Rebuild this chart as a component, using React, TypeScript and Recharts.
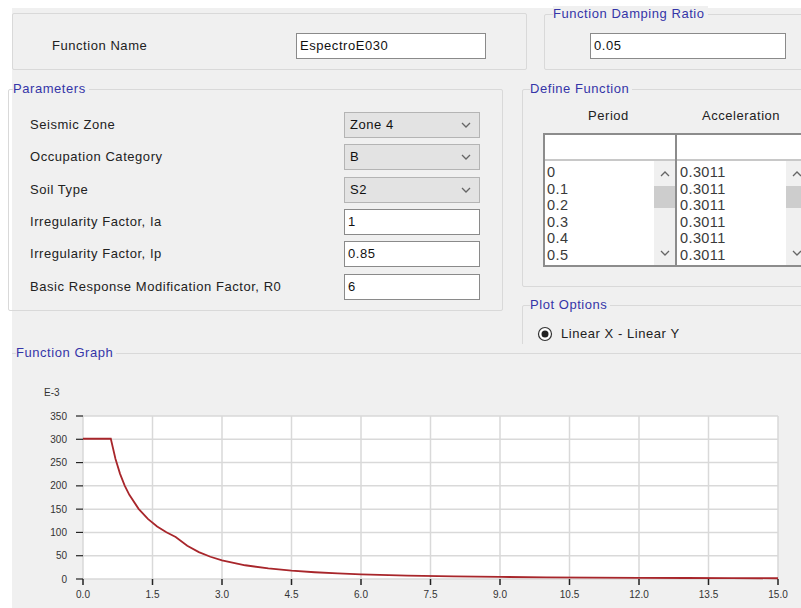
import React from "react";
import { LineChart, Line, XAxis, YAxis, CartesianGrid } from "recharts";

// spectrum (acceleration in E-3 units)
const periods = [0, 0.1, 0.2, 0.3, 0.4, 0.5, 0.6, 0.7, 0.8, 0.9, 1.0, 1.2, 1.4, 1.6, 1.8, 2.0, 2.25, 2.5, 2.75, 3.0, 3.5, 4.0, 4.5, 5.0, 5.5, 6.0, 7.0, 8.0, 9.0, 10, 11, 12, 13, 14, 15];
const accel = [301.1, 301.1, 301.1, 301.1, 301.1, 301.1, 301.1, 258.1, 225.8, 200.7, 180.7, 150.6, 129.0, 112.9, 100.4, 90.3, 71.4, 57.8, 47.8, 40.1, 29.5, 22.6, 17.8, 14.5, 11.9, 10.0, 7.4, 5.6, 4.5, 3.6, 3.0, 2.5, 2.1, 1.8, 1.6];
const xTicks = [0, 1.5, 3, 4.5, 6, 7.5, 9, 10.5, 12, 13.5, 15];
const yTicks = [0, 50, 100, 150, 200, 250, 300, 350];

const periodRows = ["0", "0.1", "0.2", "0.3", "0.4", "0.5"];
const accelRows = ["0.3011", "0.3011", "0.3011", "0.3011", "0.3011", "0.3011"];

const paramLabels = [
  "Seismic Zone",
  "Occupation Category",
  "Soil Type",
  "Irregularity Factor, Ia",
  "Irregularity Factor, Ip",
  "Basic Response Modification Factor, R0",
];
const paramValues = ["Zone 4", "B", "S2", "1", "0.85", "6"];
const paramIsCombo = [true, true, true, false, false, false];

const FONT = "'Liberation Sans', Arial, sans-serif";
const BLUE = "#3535a8";
const BG = "#f0f0f0";
const LINE = "#d9d9d9";
const SPACING = "0.55px";

const abs = (x: number, y: number, w?: number, h?: number): React.CSSProperties => ({
  position: "absolute",
  left: x,
  top: y,
  width: w,
  height: h,
  boxSizing: "border-box",
});

function Label({ x, y, text, color = "#222", bg }: { x: number; y: number; text: string; color?: string; bg?: boolean }) {
  return (
    <div style={{ ...abs(x, y - 8), fontSize: 13, lineHeight: "16px", letterSpacing: SPACING, color, whiteSpace: "nowrap", background: bg ? BG : undefined, paddingRight: bg ? 3 : 0 }}>
      {text}
    </div>
  );
}

function GroupBox({ x, y, w, h, title, tx }: { x: number; y: number; w: number; h: number; title: string; tx: number }) {
  return (
    <>
      <div style={{ ...abs(x, y, w, h), border: `1px solid ${LINE}`, borderRadius: 2 }} />
      {title ? <Label x={tx} y={y} text={title} color={BLUE} bg /> : null}
    </>
  );
}

function TextBox({ x, y, w, h, value }: { x: number; y: number; w: number; h: number; value: string }) {
  return (
    <div style={{ ...abs(x, y, w, h), background: "#fff", border: "1px solid #8a8a8a", fontSize: 13, letterSpacing: SPACING, lineHeight: `${h - 2}px`, paddingLeft: 3, color: "#111" }}>
      {value}
    </div>
  );
}

function Chevron({ x, y, up }: { x: number; y: number; up?: boolean }) {
  return (
    <svg style={{ position: "absolute", left: x, top: y }} width={10} height={6}>
      <polyline points={up ? "1,5 5,1 9,5" : "1,1 5,5 9,1"} fill="none" stroke="#666" strokeWidth={1.3} />
    </svg>
  );
}

function Combo({ x, y, w, h, value }: { x: number; y: number; w: number; h: number; value: string }) {
  return (
    <div style={{ ...abs(x, y, w, h), background: "#e3e3e3", border: "1px solid #b4b4b4", fontSize: 13, letterSpacing: SPACING, lineHeight: `${h - 2}px`, paddingLeft: 5, color: "#111" }}>
      {value}
      <Chevron x={w - 20} y={(h - 8) / 2} />
    </div>
  );
}

function ListColumn({ x, w, rows, sbx, sbw }: { x: number; w: number; rows: string[]; sbx: number; sbw: number }) {
  return (
    <>
      {rows.map((r, i) => (
        <div key={i} style={{ ...abs(x + 2, 164 + i * 16.6), fontSize: 14.5, letterSpacing: "0.4px", lineHeight: "16px", color: "#3a3a3a", width: w }}>
          {r}
        </div>
      ))}
      <div style={{ ...abs(sbx, 161, sbw, 104), background: "#f0f0f0" }} />
      <div style={{ ...abs(sbx, 186, sbw, 22), background: "#cdcdcd" }} />
      <Chevron x={sbx + 6} y={171} up />
      <Chevron x={sbx + 6} y={250} />
    </>
  );
}

function SpectrumChart() {
  const data = periods.map((t, i) => ({ t, a: accel[i] }));
  const tick = { fill: "#333", fontSize: 10, fontFamily: FONT };
  return (
    <LineChart width={801} height={228} data={data} margin={{ top: 36, right: 23, bottom: 0, left: 0 }}>
      <CartesianGrid stroke={LINE} strokeWidth={1.5} fill="#fff" horizontalValues={yTicks} verticalValues={xTicks} />
      <XAxis
        dataKey="t"
        type="number"
        domain={[0, 15]}
        ticks={xTicks}
        tickFormatter={(v) => Number(v).toFixed(1)}
        tick={tick}
        axisLine={false}
        tickLine={{ stroke: "#222", strokeWidth: 1.5 }}
        tickSize={6}
        tickMargin={6}
        height={29}
        interval={0}
      />
      <YAxis
        type="number"
        domain={[0, 350]}
        ticks={yTicks}
        tick={tick}
        axisLine={false}
        tickLine={{ stroke: "#222", strokeWidth: 1.2 }}
        tickSize={7}
        tickMargin={9}
        width={83}
        interval={0}
      />
      <Line type="linear" dataKey="a" stroke="#a8262b" strokeWidth={1.8} dot={false} isAnimationActive={false} />
    </LineChart>
  );
}

export default function App() {
  return (
    <div style={{ position: "fixed", left: 0, top: 0, width: 801, height: 608, background: "#fff", fontFamily: FONT, overflow: "hidden" }}>
      <div style={{ ...abs(12, 8, 789, 600), background: BG }} />

      {/* function name + damping */}
      <GroupBox x={12} y={13} w={515} h={57} title="" tx={0} />
      <Label x={52} y={46} text="Function Name" />
      <TextBox x={296} y={33} w={190} h={26} value="EspectroE030" />
      <GroupBox x={544} y={14} w={270} h={56} title="Function Damping Ratio" tx={553} />
      <TextBox x={590} y={33} w={196} h={26} value="0.05" />

      {/* parameters */}
      <GroupBox x={8} y={89} w={495} h={222} title="Parameters" tx={13} />
      {paramLabels.map((l, i) => (
        <Label key={l} x={30} y={125 + i * 32.3} text={l} />
      ))}
      {paramValues.map((v, i) =>
        paramIsCombo[i] ? (
          <Combo key={i} x={344} y={112 + i * 32.3} w={136} h={26} value={v} />
        ) : (
          <TextBox key={i} x={344} y={209 + (i - 3) * 32.3} w={136} h={26} value={v} />
        )
      )}

      {/* define function */}
      <GroupBox x={522} y={89} w={290} h={198} title="Define Function" tx={530} />
      <Label x={588} y={116} text="Period" />
      <Label x={702} y={116} text="Acceleration" />
      <div style={{ ...abs(543, 133, 270, 134), background: "#fff", border: "2px solid #8c8c8c" }} />
      <div style={{ ...abs(545, 159, 266, 2), background: "#c8c8c8" }} />
      <div style={{ ...abs(675, 133, 2, 134), background: "#8c8c8c" }} />
      <ListColumn x={545} w={100} rows={periodRows} sbx={654} sbw={21} />
      <ListColumn x={678} w={100} rows={accelRows} sbx={786} sbw={21} />

      {/* plot options */}
      <GroupBox x={522} y={305} w={290} h={60} title="Plot Options" tx={530} />
      <svg style={{ position: "absolute", left: 537, top: 326 }} width={16} height={16}>
        <circle cx={8} cy={8} r={6.5} fill="#fff" stroke="#333" strokeWidth={1.2} />
        <circle cx={8} cy={8} r={3.5} fill="#222" />
      </svg>
      <Label x={561} y={334} text="Linear X - Linear Y" />

      {/* function graph */}
      <div style={{ ...abs(12, 344, 789, 264), background: BG }} />
      <div style={{ ...abs(12, 353, 789, 1), background: LINE }} />
      <Label x={16} y={353} text="Function Graph" color={BLUE} bg />
      <div style={{ position: "absolute", left: 0, top: 380 }}>
        <SpectrumChart />
      </div>
      <div style={{ ...abs(44, 387), fontSize: 10, lineHeight: "12px", color: "#333" }}>E-3</div>
    </div>
  );
}
